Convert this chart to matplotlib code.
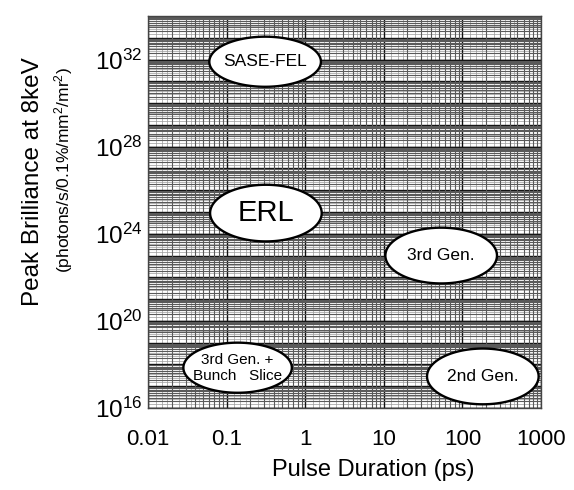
import numpy as np
import matplotlib
matplotlib.use("Agg")
import matplotlib.pyplot as plt
from matplotlib.ticker import LogLocator, LogFormatterMathtext, NullFormatter, FixedLocator

plt.rcParams['font.family'] = ['Liberation Sans', 'DejaVu Sans']
plt.rcParams['mathtext.fontset'] = 'custom'
plt.rcParams['mathtext.rm'] = 'Liberation Sans'
plt.rcParams['mathtext.it'] = 'Liberation Sans'

# source regions: label, centre (log10 ps, log10 brilliance), half-sizes in decades
sources = ["SASE-FEL", "ERL", "3rd Gen.", "3rd Gen. +\nBunch   Slice", "2nd Gen."]
log_pulse = [-0.51, -0.50, 1.73, -0.86, 2.26]
log_bril = [31.9, 24.95, 23.0, 17.85, 17.45]
half_w = [0.71, 0.71, 0.71, 0.69, 0.71]
half_h = [1.15, 1.30, 1.28, 1.15, 1.28]
font_sizes = [12.5, 21, 12.5, 11, 12.5]

x_ticks = [0.01, 0.1, 1, 10, 100, 1000]
x_tick_labels = ["0.01", "0.1", "1", "10", "100", "1000"]
y_ticks = [1e16, 1e20, 1e24, 1e28, 1e32]

fig = plt.figure(figsize=(5.74, 4.9), dpi=100)
ax = fig.add_axes([148 / 574, 1 - 408 / 490, 393 / 574, 392 / 490])
ax.set_xscale("log")
ax.set_yscale("log")
ax.set_xlim(0.01, 1000)
ax.set_ylim(1e16, 1e34)

# dense log grid
ax.xaxis.set_major_locator(FixedLocator(x_ticks))
ax.xaxis.set_minor_locator(LogLocator(base=10, subs=np.arange(2, 10), numticks=50))
ax.yaxis.set_major_locator(LogLocator(base=10, subs=[1.0], numticks=50))
ax.yaxis.set_minor_locator(LogLocator(base=10, subs=np.arange(2, 10), numticks=50))
ax.grid(True, which="major", color="#111111", lw=1.0)
ax.grid(True, which="minor", color="#5a5a5a", lw=0.8)
ax.set_axisbelow(True)

# finer sub-minor lines, gives the grey texture of the original
for k in range(-2, 3):
    for s in [1.25, 1.5, 1.75, 2.5, 3.5, 4.5]:
        ax.axvline(s * 10.0 ** k, color="#9a9a9a", lw=0.5, zorder=0.4)
for k in range(16, 34):
    for s in [1.5, 2.5, 3.5]:
        ax.axhline(s * 10.0 ** k, color="#9a9a9a", lw=0.5, zorder=0.4)
    ax.axhline(10.0 ** k, color="#111111", lw=1.0, zorder=0.5)

ax.set_xticklabels(x_tick_labels)
ax.xaxis.set_minor_formatter(NullFormatter())
ax.yaxis.set_minor_formatter(NullFormatter())
ax.set_yticks(y_ticks, minor=False)
ax.yaxis.set_major_formatter(LogFormatterMathtext())

ax.tick_params(which="both", length=0)
ax.tick_params(axis="x", labelsize=16, pad=15)
ax.tick_params(axis="y", labelsize=17.5, pad=4)
for s in ax.spines.values():
    s.set_color("#444444")
    s.set_linewidth(1.0)

t = np.linspace(0, 2 * np.pi, 200)
for name, cx, cy, a, b, fs in zip(sources, log_pulse, log_bril, half_w, half_h, font_sizes):
    ex = 10 ** (cx + a * np.cos(t))
    ey = 10 ** (cy + b * np.sin(t))
    ax.fill(ex, ey, facecolor="white", edgecolor="black", lw=1.7, zorder=3)
    ax.text(10 ** cx, 10 ** cy, name, ha="center", va="center",
            fontsize=fs, zorder=4, linespacing=1.15)

fig.text(0.65, 0.041, "Pulse Duration (ps)", ha="center", va="center", fontsize=17)
fig.text(0.0575, 0.63, "Peak Brilliance at 8keV", rotation=90,
         ha="center", va="center", fontsize=17.5)
fig.text(0.11, 0.653, r"(photons/s/0.1%/mm$^2$/mr$^2$)", rotation=90,
         ha="center", va="center", fontsize=12.5)

fig.savefig("out.png", dpi=100)
